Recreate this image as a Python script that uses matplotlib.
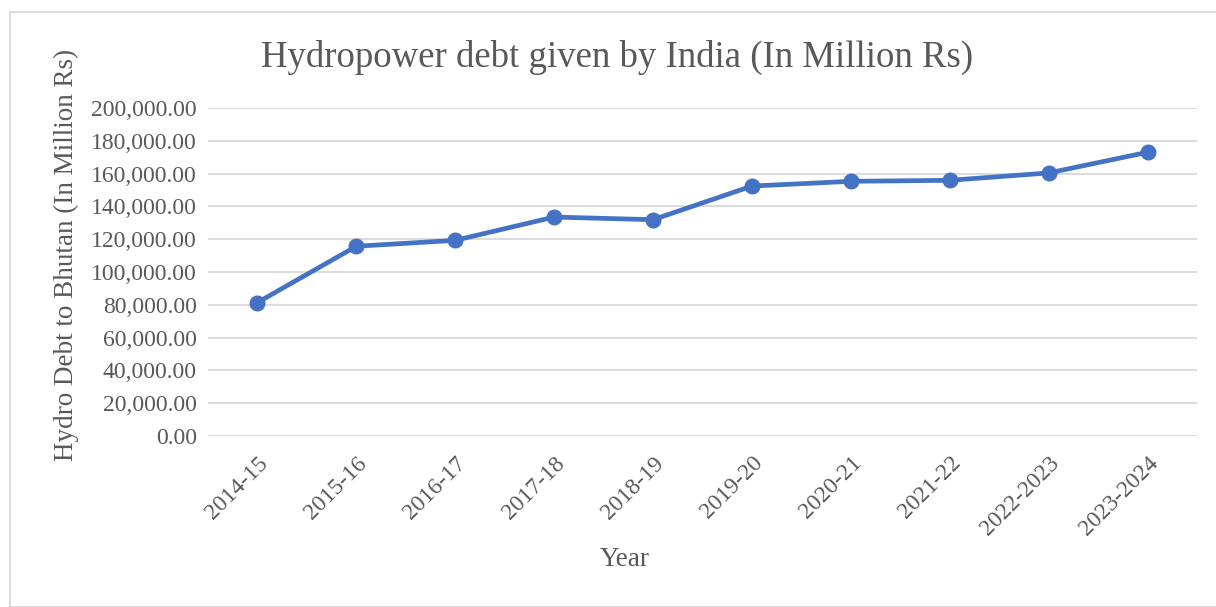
import numpy as np
from matplotlib import pyplot as plt
from matplotlib.patches import Rectangle

# data
years = ['2014-15', '2015-16', '2016-17', '2017-18', '2018-19',
         '2019-20', '2020-21', '2021-22', '2022-2023', '2023-2024']
debt = [81400, 115700, 119300, 133500, 131900,
        152400, 155300, 155900, 160400, 173000]
yticks = list(range(0, 200001, 20000))

plt.rcParams['font.family'] = ['Liberation Serif', 'DejaVu Serif']
grey = '#595959'
blue = '#4472C4'

W, H, dpi = 1216, 607, 100
fig = plt.figure(figsize=(W/dpi, H/dpi), dpi=dpi)
ax = fig.add_axes([208/W, 1 - 436/H, (1197-208)/W, (436-108)/H])

x = np.arange(len(years))
ax.plot(x, debt, '-o', color=blue, linewidth=3.4, markersize=10.5,
        solid_capstyle='round', zorder=3)

ax.set_xlim(-0.5, len(years) - 0.5)
ax.set_ylim(0, 200000)
ax.set_yticks(yticks)
ax.set_yticklabels(['{:,.2f}'.format(v) for v in yticks], fontsize=17, color=grey)
ax.set_xticks(x)
ax.set_xticklabels(years, rotation=45, ha='right', rotation_mode='anchor',
                   fontsize=17, color=grey)
ax.tick_params(length=0, pad=8)
ax.tick_params(axis='x', pad=12)
ax.grid(axis='y', color='#d9d9d9', linewidth=1.3)
ax.set_axisbelow(True)
for s in ax.spines.values():
    s.set_visible(False)

fig.text(617/W, 1 - 57/H, 'Hydropower debt given by India (In Million Rs)',
         ha='center', va='center', fontsize=26.5, color=grey)
fig.text(625/W, 1 - 560/H, 'Year', ha='center', va='center', fontsize=19.5, color=grey)
fig.text(66/W, 1 - 255/H, 'Hydro Debt to Bhutan (In Million Rs)', ha='center',
         va='center', rotation=90, fontsize=19.5, color=grey)

# outer chart border
fig.patches.append(Rectangle((10/W, 0), 1.2, 1 - 12/H, transform=fig.transFigure,
                             fill=False, edgecolor='#d9d9d9', linewidth=1.3))

fig.savefig('out.png', dpi=dpi)
